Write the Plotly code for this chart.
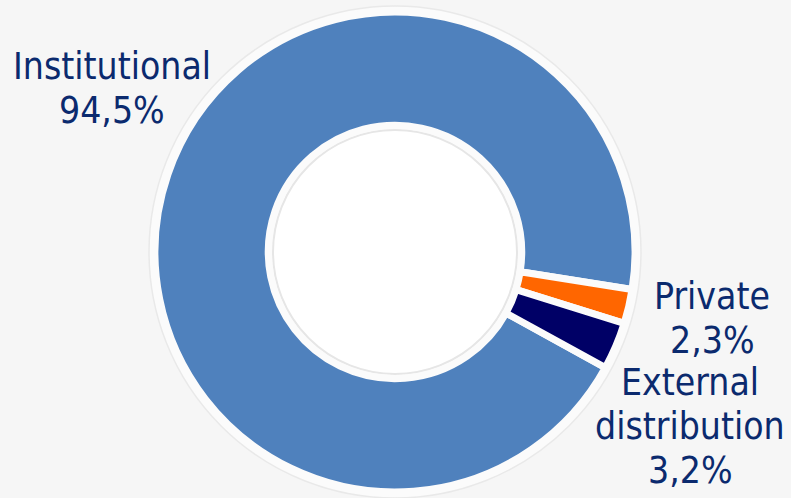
import plotly.graph_objects as go

labels = ["Institutional", "Private", "External distribution"]
label_lines = [["Institutional"], ["Private"], ["External", "distribution"]]
values = [94.5, 2.3, 3.2]
value_text = ["94,5%", "2,3%", "3,2%"]
colors = ["#4f81bd", "#ff6600", "#000066"]

W, H = 791, 498
cx, cy = 395, 252          # pie centre in px (from top)
r = 240                    # pie radius in px
lw = 7

def px_x(x):
    return x / W

def px_y(y):
    return (H - y) / H

fig = go.Figure()
fig.add_trace(go.Pie(
    labels=labels,
    values=values,
    sort=False,
    direction="clockwise",
    rotation=118.8,
    hole=0.528,
    marker=dict(colors=colors, line=dict(color="#fbfbfb", width=lw)),
    textinfo="none",
    hoverinfo="label+percent",
    showlegend=False,
    domain=dict(x=[px_x(cx - r), px_x(cx + r)], y=[px_y(cy + r), px_y(cy - r)]),
))

# outer white rim and inner hole shadow
shapes = [
    dict(type="circle", xref="paper", yref="paper", layer="below",
         x0=px_x(cx - 246), x1=px_x(cx + 246), y0=px_y(cy + 246), y1=px_y(cy - 246),
         fillcolor="#fbfbfb", line=dict(color="#e9e9e9", width=1.5)),
    dict(type="circle", xref="paper", yref="paper", layer="below",
         x0=px_x(cx - 122), x1=px_x(cx + 122), y0=px_y(cy + 122), y1=px_y(cy - 122),
         fillcolor="#ffffff", line=dict(color="#e6e6e6", width=2)),
]

# label block: centre x and first baseline (px), line pitch
label_pos = [(112, 79), (712, 309), (690, 395)]
pitch = 44
fs = 37
font = dict(family="DejaVu Sans Condensed, Liberation Sans, sans-serif", size=fs, color="#0b2a6e")

annotations = []
for lines, vt, (x, b0) in zip(label_lines, value_text, label_pos):
    for i, t in enumerate(lines + [vt]):
        base = b0 + i * pitch
        annotations.append(dict(
            x=px_x(x), y=px_y(base - 0.35 * fs), xref="paper", yref="paper",
            text=t, showarrow=False, align="center",
            xanchor="center", yanchor="middle", font=font,
        ))

fig.update_layout(
    width=W, height=H,
    margin=dict(l=0, r=0, t=0, b=0),
    paper_bgcolor="#f6f6f6",
    plot_bgcolor="#f6f6f6",
    shapes=shapes,
    annotations=annotations,
)

fig.write_html("out.html")
